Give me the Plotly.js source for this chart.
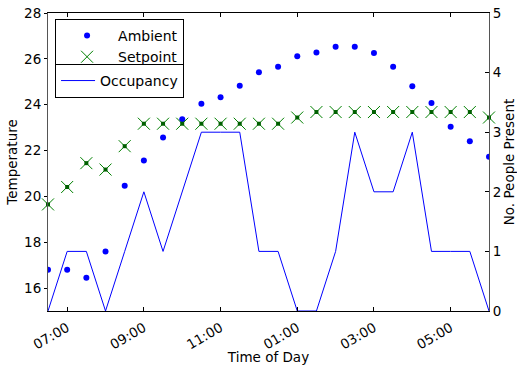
<!DOCTYPE html>
<html>
<head>
<meta charset="utf-8">
<script src="https://cdn.plot.ly/plotly-3.0.1.min.js"></script>
<style>html,body{margin:0;padding:0;background:#fff;}#chart{width:517px;height:365px;}</style>
</head>
<body>
<div id="chart"></div>
<script>
// Time of day (30-minute samples)
const times = ["06:30","07:00","07:30","08:00","08:30","09:00","09:30","10:00","10:30","11:00","11:30","12:00",
               "12:30","13:00","13:30","14:00","14:30","15:00","15:30","16:00","16:30","17:00","17:30","18:00"];
// Ambient temperature (left axis)
const ambient = [16.8,16.8,16.45,17.6,20.46,21.57,22.57,23.36,24.04,24.32,24.83,25.42,
                 25.66,26.11,26.28,26.53,26.53,26.25,25.66,24.8,24.07,23.04,22.41,21.73];
// Setpoint temperature (left axis)
const setpoint = [19.65,20.41,21.45,21.17,22.19,23.17,23.17,23.17,23.17,23.17,23.17,23.17,
                  23.17,23.44,23.68,23.68,23.68,23.68,23.68,23.68,23.68,23.68,23.68,23.44];
// Occupancy (right axis)
const occupancy = [0,1,1,0,1,2,1,2,3,3,3,1,1,0,0,1,3,2,2,3,1,1,1,0];

const day = "2000-01-01 ";
const x = times.map(t => day + t);

const traces = [
  {x: x, y: ambient, name: "Ambient", type: "scatter", mode: "markers",
   marker: {color: "#0000ff", size: 6, symbol: "circle"}, legend: "legend", cliponaxis: true},
  {x: x, y: setpoint, name: "Setpoint", type: "scatter", mode: "markers",
   marker: {color: "#008000", size: 12, symbol: "x-thin", line: {color: "#008000", width: 1}},
   legend: "legend", cliponaxis: false, legendgroup: "sp"},
  {x: x, y: setpoint, name: "Setpoint", type: "scatter", mode: "markers", showlegend: false,
   marker: {color: "#006000", size: 4, symbol: "square"}, cliponaxis: false, legendgroup: "sp"},
  {x: x, y: occupancy, name: "Occupancy", type: "scatter", mode: "lines", yaxis: "y2",
   line: {color: "#0000ff", width: 1}, legend: "legend2"}
];

const layout = {
  width: 517, height: 365,
  margin: {l: 48, r: 28, t: 13, b: 54, pad: 0},
  paper_bgcolor: "#ffffff", plot_bgcolor: "#ffffff",
  font: {family: "DejaVu Sans", size: 13.5, color: "#000"},
  xaxis: {
    type: "date", range: [day + "06:30", day + "18:00"],
    tick0: day + "07:00", dtick: 7200000, tickformat: "%I:%M", tickangle: -30,
    ticks: "inside", ticklen: 4, tickcolor: "#000", showline: true, linecolor: "#000", linewidth: 1,
    mirror: "ticks", showgrid: false, zeroline: false, ticklabelstandoff: 3,
    title: {text: "Time of Day", font: {size: 13.5}, standoff: 3}
  },
  yaxis: {
    range: [15, 28], tick0: 16, dtick: 2, ticks: "outside", ticklen: 3, tickcolor: "#000",
    showline: true, linecolor: "#555", linewidth: 1, showgrid: false, zeroline: false,
    title: {text: "Temperature", font: {size: 13.5}, standoff: 3}
  },
  yaxis2: {
    overlaying: "y", side: "right", range: [0, 5], dtick: 1, ticks: "inside", ticklen: 4, tickcolor: "#000",
    showline: true, linecolor: "#555", linewidth: 1, showgrid: false, zeroline: false,
    title: {text: "No. People Present", font: {size: 13.5}, standoff: 4}
  },
  legend: {x: 0.016, y: 0.98, xanchor: "left", yanchor: "top", bgcolor: "#fff",
           bordercolor: "#000", borderwidth: 1, itemwidth: 52, font: {size: 14}, tracegroupgap: 0},
  legend2: {x: 0.016, y: 0.829, xanchor: "left", yanchor: "top", bgcolor: "#fff",
            bordercolor: "#000", borderwidth: 1, itemwidth: 34, font: {size: 14}},
  showlegend: true
};

Plotly.newPlot("chart", traces, layout, {displayModeBar: false, staticPlot: true});
</script>
</body>
</html>
